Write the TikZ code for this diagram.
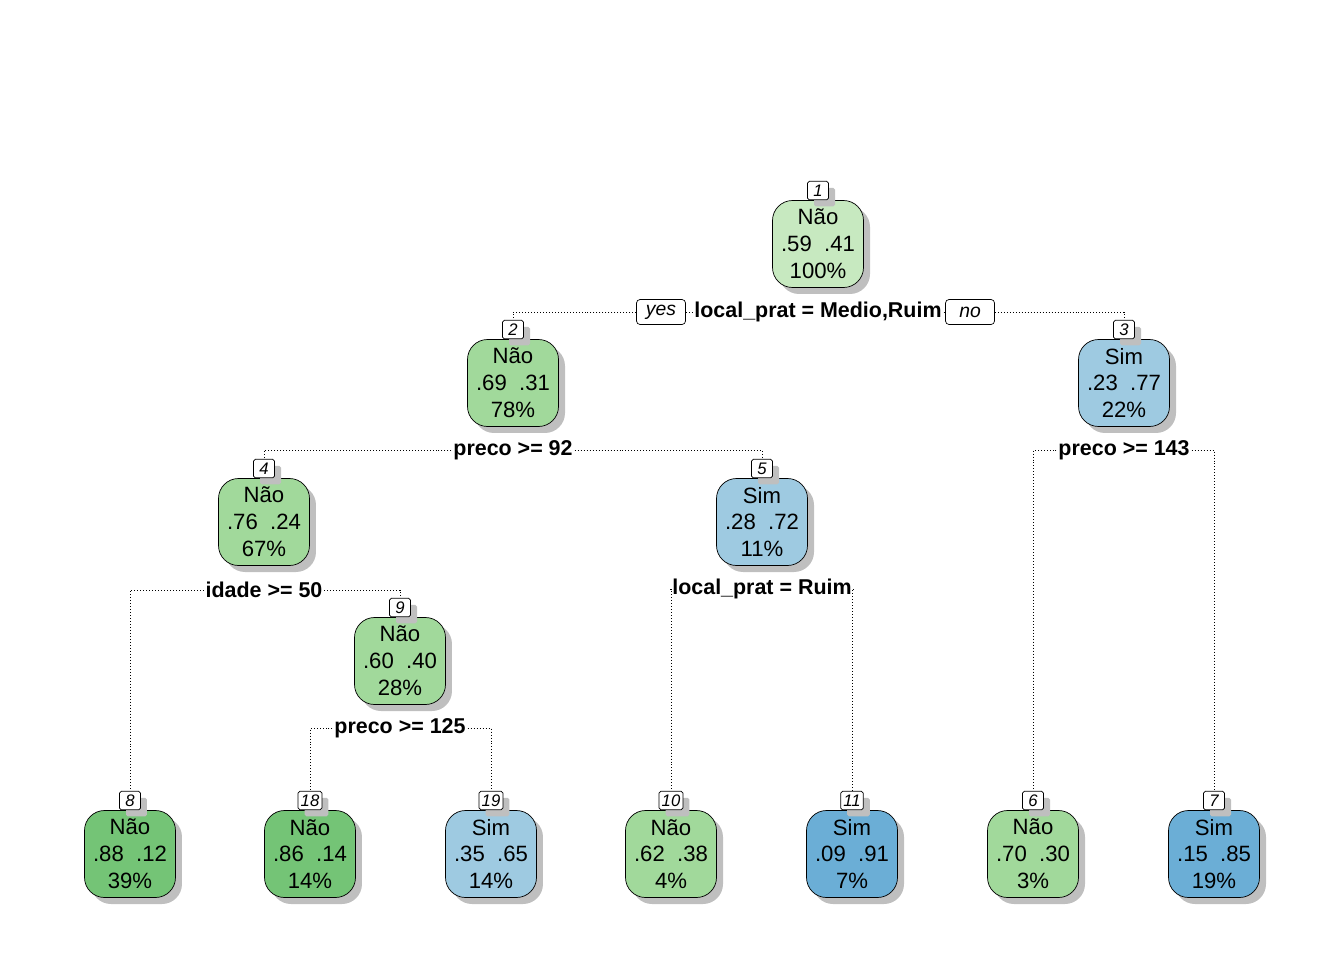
\documentclass[tikz,border=0pt]{standalone}
\usepackage{fontspec}
\setmainfont{Liberation Sans}
\usepackage{tikz}
\usetikzlibrary{positioning,shadows}

\definecolor{grA}{HTML}{C7E9C0}
\definecolor{grB}{HTML}{A1D99B}
\definecolor{grC}{HTML}{74C476}
\definecolor{blA}{HTML}{9ECAE1}
\definecolor{blB}{HTML}{6BAED6}

\tikzset{
  leaf/.style={draw=black, rounded corners=0.4cm, minimum width=1.82cm, minimum height=1.74cm,
    align=center, inner sep=0pt, font=\fontsize{12.6}{15.3}\selectfont,
    drop shadow={shadow xshift=0.13cm, shadow yshift=-0.13cm, fill=black!25, opacity=1}},
  tag/.style={draw=black, fill=white, rounded corners=1pt, minimum width=0.42cm, minimum height=0.37cm,
    inner sep=1.5pt, font=\fontsize{9.5}{9.5}\selectfont\itshape,
    drop shadow={shadow xshift=0.13cm, shadow yshift=-0.13cm, fill=black!25, opacity=1}},
  split/.style={font=\fontsize{12.2}{12.2}\selectfont\bfseries, inner sep=1pt, fill=white},
  yn/.style={draw=black, rounded corners=2pt, minimum width=0.98cm, minimum height=0.5cm,
    inner sep=1pt, font=\fontsize{11}{11}\selectfont\itshape},
  edge/.style={draw=black, line width=0.5pt, dash pattern=on 0.5pt off 1.2pt}
}

\begin{document}
\begin{tikzpicture}[x=0.02cm, y=-0.02cm]
  \useasboundingbox (0,0) rectangle (1344,960);

  % inner nodes
  \node[leaf, fill=grA] (n1) at (818,244) {Não\\.59\ \ .41\\100\%};
  \node[leaf, fill=grB] (n2) at (513,383) {Não\\.69\ \ .31\\78\%};
  \node[leaf, fill=blA] (n3) at (1124,383) {Sim\\.23\ \ .77\\22\%};
  \node[leaf, fill=grB] (n4) at (264,522) {Não\\.76\ \ .24\\67\%};
  \node[leaf, fill=blA] (n5) at (762,522) {Sim\\.28\ \ .72\\11\%};
  \node[leaf, fill=grB] (n9) at (400,661) {Não\\.60\ \ .40\\28\%};

  % leaves
  \node[leaf, fill=grC] (n8) at (130,854) {Não\\.88\ \ .12\\39\%};
  \node[leaf, fill=grC] (n18) at (310,854) {Não\\.86\ \ .14\\14\%};
  \node[leaf, fill=blA] (n19) at (491,854) {Sim\\.35\ \ .65\\14\%};
  \node[leaf, fill=grB] (n10) at (671,854) {Não\\.62\ \ .38\\4\%};
  \node[leaf, fill=blB] (n11) at (852,854) {Sim\\.09\ \ .91\\7\%};
  \node[leaf, fill=grB] (n6) at (1033,854) {Não\\.70\ \ .30\\3\%};
  \node[leaf, fill=blB] (n7) at (1214,854) {Sim\\.15\ \ .85\\19\%};

  % node numbers
  \foreach \k in {1,2,3,4,5,9,8,18,19,10,11,6,7}
    \node[tag, above=0pt of n\k] (t\k) {\k};

  % splits
  \node[split] (s1) at (818,312) {local\_prat = Medio,Ruim};
  \node[yn] (yes) at (661,312) {yes};
  \node[yn] (no) at (970,312) {no};
  \node[split] (s2) at (513,450) {preco >= 92};
  \node[split] (s3) at (1124,450) {preco >= 143};
  \node[split] (s4) at (264,590) {idade >= 50};
  \node[split] (s5) at (762,589) {local\_prat = Ruim};
  \node[split] (s9) at (400,728) {preco >= 125};

  % connectors
  \draw[edge] (yes.east) -- (s1.west);
  \draw[edge] (s1.east) -- (no.west);
  \draw[edge] (yes.west) -| (t2.north);
  \draw[edge] (no.east) -| (t3.north);
  \draw[edge] (s2.west) -| (t4.north);
  \draw[edge] (s2.east) -| (t5.north);
  \draw[edge] (s3.west) -| (t6.north);
  \draw[edge] (s3.east) -| (t7.north);
  \draw[edge] (s4.west) -| (t8.north);
  \draw[edge] (s4.east) -| (t9.north);
  \draw[edge] (s5.west) -| (t10.north);
  \draw[edge] (s5.east) -| (t11.north);
  \draw[edge] (s9.west) -| (t18.north);
  \draw[edge] (s9.east) -| (t19.north);
\end{tikzpicture}
\end{document}
